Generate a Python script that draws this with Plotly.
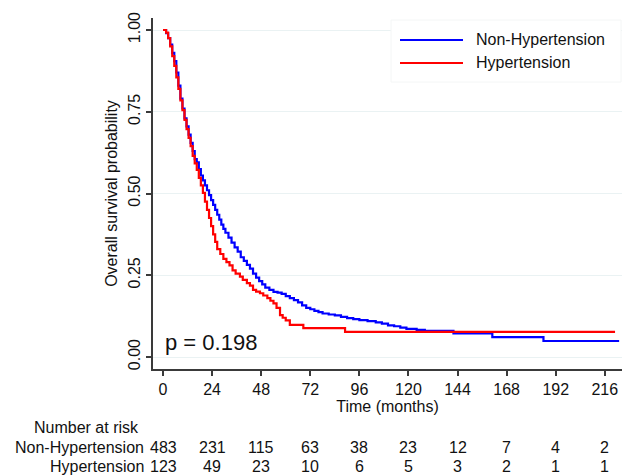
import plotly.graph_objects as go

# ---- data ----
time_nonht = [0, 1.5, 2.5, 3.5, 4.5, 5.5, 6.5, 7.5, 8.5, 9.5, 10.5, 11.5, 12.5, 13.5, 14.5,
              15.5, 16.5, 17.5, 18.5, 19.5, 20.5, 21.5, 22.5, 23.5, 24.5, 25.5, 26.5, 27.5,
              28.5, 29.5, 30.5, 32, 33.5, 35, 36.5, 38, 39.5, 41, 42.5, 44, 45.5, 47, 48.5,
              50, 52, 54, 56, 58, 60, 62, 64, 66, 68, 70, 72, 74, 76, 78, 81, 84, 87, 90,
              93, 96, 100, 104, 107, 110, 113, 116, 119, 124, 128, 142, 161, 186, 223]
surv_nonht = [1.000, 0.990, 0.975, 0.955, 0.930, 0.905, 0.870, 0.830, 0.790, 0.760, 0.730,
              0.705, 0.680, 0.655, 0.630, 0.605, 0.595, 0.575, 0.555, 0.540, 0.525, 0.510,
              0.495, 0.480, 0.465, 0.450, 0.435, 0.420, 0.405, 0.392, 0.380, 0.365, 0.350,
              0.335, 0.322, 0.305, 0.294, 0.282, 0.270, 0.255, 0.243, 0.232, 0.222, 0.212,
              0.205, 0.199, 0.197, 0.193, 0.186, 0.180, 0.174, 0.167, 0.158, 0.150, 0.146,
              0.141, 0.137, 0.133, 0.130, 0.127, 0.123, 0.119, 0.116, 0.113, 0.110, 0.106,
              0.102, 0.097, 0.094, 0.090, 0.086, 0.083, 0.080, 0.072, 0.061, 0.049, 0.049]

time_ht = [0, 1.5, 2.5, 3.5, 4.5, 5.5, 6.5, 7.5, 8.5, 9.5, 10.5, 11.5, 12.5, 13.5, 14.5,
           15.5, 16.5, 17.5, 18.5, 19.5, 20.5, 21.5, 22.5, 23.5, 24.5, 25.5, 26.5, 28,
           29.5, 31, 32.5, 34, 35.5, 37.6, 39, 41, 42.5, 44, 45.5, 47.4, 49, 51, 52.5, 54,
           55.5, 57.2, 58.5, 60, 62, 68.6, 89, 221]
surv_ht = [1.000, 0.992, 0.975, 0.950, 0.920, 0.890, 0.855, 0.820, 0.785, 0.755, 0.725,
           0.697, 0.670, 0.645, 0.615, 0.592, 0.572, 0.548, 0.525, 0.502, 0.475, 0.450,
           0.425, 0.400, 0.375, 0.352, 0.330, 0.315, 0.300, 0.290, 0.280, 0.265, 0.255,
           0.246, 0.236, 0.226, 0.218, 0.205, 0.200, 0.195, 0.188, 0.180, 0.172, 0.164,
           0.150, 0.128, 0.120, 0.112, 0.098, 0.088, 0.077, 0.077]

x_ticks = [0, 24, 48, 72, 96, 120, 144, 168, 192, 216]
y_ticks = [0, 0.25, 0.5, 0.75, 1.0]
y_tick_labels = ["0.00", "0.25", "0.50", "0.75", "1.00"]
risk_nonht = [483, 231, 115, 63, 38, 23, 12, 7, 4, 2]
risk_ht = [123, 49, 23, 10, 6, 5, 3, 2, 1, 1]
group_names = ["Non-Hypertension", "Hypertension"]
group_colors = ["#0000ff", "#ff0000"]
p_text = "p = 0.198"

FONT = "Liberation Sans, Arial, sans-serif"

fig = go.Figure()
fig.add_trace(go.Scatter(x=time_nonht, y=surv_nonht, mode="lines", line_shape="hv",
                         name=group_names[0], line=dict(color=group_colors[0], width=2.2),
                         showlegend=False))
fig.add_trace(go.Scatter(x=time_ht, y=surv_ht, mode="lines", line_shape="hv",
                         name=group_names[1], line=dict(color=group_colors[1], width=2.2),
                         showlegend=False))

W, H = 626, 475
ML, MR, MT, MB = 153, 4, 18, 106
PW, PH = W - ML - MR, H - MT - MB


def px2paper_x(px):
    return (px - ML) / PW


def py2paper_y(py):
    return (H - MB - py) / PH


shapes = []
annotations = []

# legend box
shapes.append(dict(type="rect", xref="paper", yref="paper",
                   x0=px2paper_x(391), x1=px2paper_x(621),
                   y0=py2paper_y(82), y1=py2paper_y(20),
                   fillcolor="white", line=dict(color="#f4f6f6", width=1), layer="above"))
for i, (name, col) in enumerate(zip(group_names, group_colors)):
    py = 40 + i * 23
    shapes.append(dict(type="line", xref="paper", yref="paper",
                       x0=px2paper_x(400), x1=px2paper_x(463),
                       y0=py2paper_y(py), y1=py2paper_y(py),
                       line=dict(color=col, width=2.2), layer="above"))
    annotations.append(dict(text=name, xref="paper", yref="paper",
                            x=px2paper_x(474), y=py2paper_y(py), xanchor="left",
                            yanchor="middle", showarrow=False,
                            font=dict(family=FONT, size=16, color="#111")))

# p-value
annotations.append(dict(text=p_text, xref="x", yref="y", x=0, y=0.045,
                        xanchor="left", yanchor="middle", showarrow=False,
                        font=dict(family=FONT, size=22, color="#111")))

# risk table
annotations.append(dict(text="Number at risk", xref="paper", yref="paper",
                        x=px2paper_x(141), y=py2paper_y(427), xanchor="right",
                        yanchor="middle", showarrow=False,
                        font=dict(family=FONT, size=16, color="#111")))
for row, (name, vals) in enumerate(zip(group_names, [risk_nonht, risk_ht])):
    py = 447 + row * 19
    annotations.append(dict(text=name, xref="paper", yref="paper",
                            x=px2paper_x(146), y=py2paper_y(py), xanchor="right",
                            yanchor="middle", showarrow=False,
                            font=dict(family=FONT, size=16, color="#111")))
    for t, v in zip(x_ticks, vals):
        annotations.append(dict(text=str(v), xref="x", yref="paper",
                                x=t, y=py2paper_y(py), xanchor="center",
                                yanchor="middle", showarrow=False,
                                font=dict(family=FONT, size=16, color="#111")))

fig.update_layout(
    width=W, height=H,
    margin=dict(l=ML, r=MR, t=MT, b=MB),
    paper_bgcolor="white", plot_bgcolor="white",
    font=dict(family=FONT, size=16, color="#111"),
    shapes=shapes, annotations=annotations,
    showlegend=False,
    xaxis=dict(range=[-4.9, 224.4], tickvals=x_ticks, showgrid=False, zeroline=False,
               showline=True, linecolor="#3a3a3a", linewidth=1.5,
               ticks="outside", ticklen=5, tickcolor="#3a3a3a", tickwidth=1.5,
               tickfont=dict(family=FONT, size=16, color="#111"),
               title=dict(text="Time (months)", standoff=2,
                          font=dict(family=FONT, size=16, color="#111"))),
    yaxis=dict(range=[-0.0367, 1.0367], tickvals=y_ticks, ticktext=y_tick_labels,
               tickangle=-90, showgrid=True, gridcolor="#eaf2f3", gridwidth=1,
               zeroline=False, showline=True, linecolor="#3a3a3a", linewidth=1.5,
               ticks="outside", ticklen=5, tickcolor="#3a3a3a", tickwidth=1.5,
               tickfont=dict(family=FONT, size=16, color="#111"),
               title=dict(text="Overall survival probability", standoff=4,
                          font=dict(family=FONT, size=16, color="#111"))),
)

fig.write_html("out.html", config={"displayModeBar": False})

# remove the browser's default page margin so the figure sits at the top-left corner
with open("out.html", "r", encoding="utf-8") as f:
    html = f.read()
html = html.replace("<head>", "<head><style>html,body{margin:0;padding:0;overflow:hidden}</style>", 1)
with open("out.html", "w", encoding="utf-8") as f:
    f.write(html)
